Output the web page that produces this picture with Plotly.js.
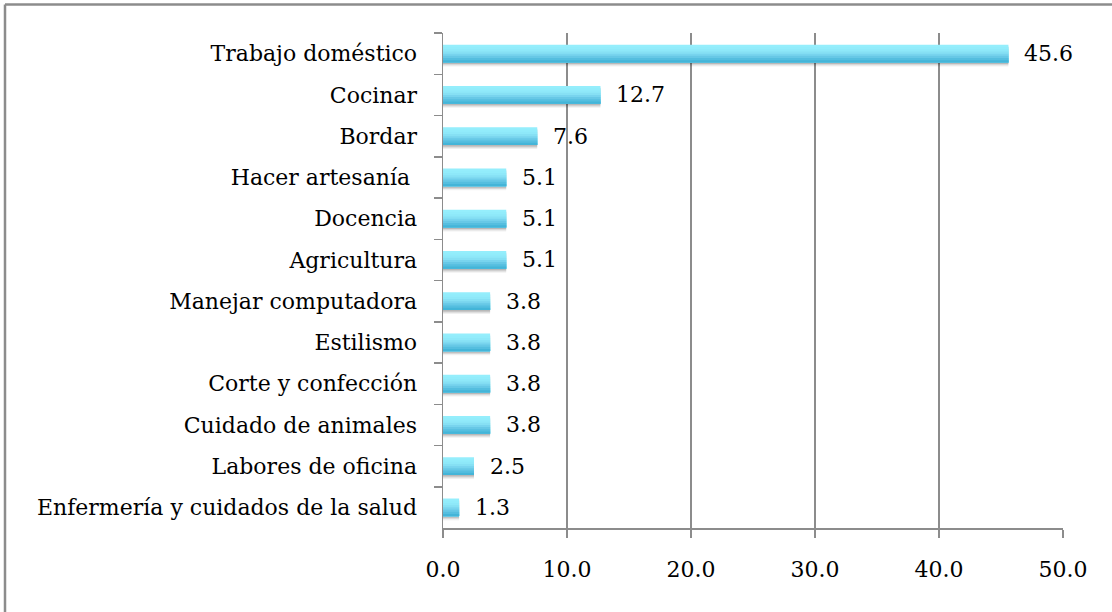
<!DOCTYPE html>
<html>
<head>
<meta charset="utf-8">
<script src="https://cdn.plot.ly/plotly-3.0.1.min.js"></script>
<style>
html,body{margin:0;padding:0;background:#fff;}
#chart{width:1112px;height:612px;}
</style>
</head>
<body>
<div id="chart"></div>
<script>
// Data
const categories = [
  "Trabajo doméstico",
  "Cocinar",
  "Bordar",
  "Hacer artesanía ",
  "Docencia",
  "Agricultura",
  "Manejar computadora",
  "Estilismo",
  "Corte y confección",
  "Cuidado de animales",
  "Labores de oficina",
  "Enfermería y cuidados de la salud"
];
const values = [45.6, 12.7, 7.6, 5.1, 5.1, 5.1, 3.8, 3.8, 3.8, 3.8, 2.5, 1.3];
const xTicks = [0, 10, 20, 30, 40, 50];

// Styling
const FONT = "'DejaVu Serif', serif";
const FSIZE = 22;
const barThick = 0.43;
const stripColors = ["#95EEFC", "#92ECFB", "#8EE8F9", "#86E0F4", "#78D4EE", "#67C8E6", "#55BEDF", "#44B5D8"];

const traces = [];
// soft shadow layers
[[0.10, "rgba(0,0,0,0.06)"], [0.065, "rgba(0,0,0,0.10)"], [0.035, "rgba(0,0,0,0.14)"]].forEach(([dy, col]) => {
  traces.push({
    type: "bar", orientation: "h",
    x: values, y: categories,
    width: barThick, offset: -barThick / 2 + dy,
    marker: {color: col, line: {width: 0}},
    hoverinfo: "skip", showlegend: false
  });
});
const h = barThick / stripColors.length;
stripColors.forEach((c, i) => {
  traces.push({
    type: "bar", orientation: "h",
    x: values, y: categories,
    width: barThick - i * h, offset: -barThick / 2 + i * h,
    marker: {color: c, line: {width: 0}},
    hoverinfo: "skip", showlegend: false
  });
});

const annotations = values.map((v, i) => ({
  x: v, y: categories[i], xref: "x", yref: "y",
  text: v.toFixed(1), showarrow: false,
  xanchor: "left", xshift: 14,
  font: {family: FONT, size: FSIZE, color: "#000"}
}));

const layout = {
  width: 1112, height: 612,
  margin: {l: 443, r: 49, t: 33, b: 84},
  paper_bgcolor: "#fff", plot_bgcolor: "#fff",
  barmode: "overlay",
  showlegend: false,
  font: {family: FONT, size: FSIZE, color: "#000"},
  xaxis: {
    range: [0, 50], tickvals: xTicks, ticktext: xTicks.map(t => t.toFixed(1)),
    showgrid: true, gridcolor: "#8c8c8c", gridwidth: 1.5,
    showline: true, linecolor: "#8c8c8c", linewidth: 1.5,
    ticks: "outside", ticklen: 8, tickwidth: 1.5, tickcolor: "#8c8c8c",
    ticklabelstandoff: 13,
    zeroline: false, fixedrange: true,
    tickfont: {family: FONT, size: FSIZE, color: "#000"}
  },
  yaxis: {
    type: "category", categoryorder: "array", categoryarray: categories,
    autorange: "reversed",
    showgrid: false, showline: true, linecolor: "#8c8c8c", linewidth: 1.5,
    ticks: "outside", tickson: "boundaries", ticklen: 8, tickwidth: 1.5, tickcolor: "#8c8c8c",
    ticklabelstandoff: 20,
    zeroline: false, fixedrange: true,
    tickfont: {family: FONT, size: FSIZE, color: "#000"}
  },
  annotations: annotations,
  shapes: [
    {type: "line", xref: "paper", yref: "paper",
     x0: (5 - 443) / 620, x1: (5 - 443) / 620, y0: (528 - 4.5) / 495, y1: -0.3,
     line: {color: "#8c8c8c", width: 2.5}},
    {type: "line", xref: "paper", yref: "paper",
     x0: (5 - 443) / 620, x1: 1.2, y0: (528 - 4.5) / 495, y1: (528 - 4.5) / 495,
     line: {color: "#8c8c8c", width: 2.5}}
  ]
};

Plotly.newPlot("chart", traces, layout, {staticPlot: true, displayModeBar: false});
</script>
</body>
</html>
